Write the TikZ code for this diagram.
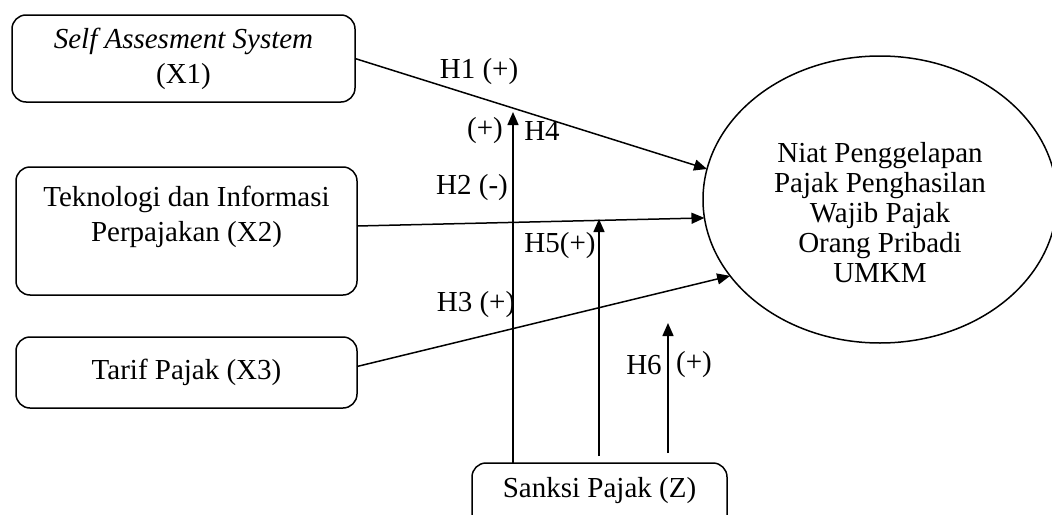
\documentclass[tikz,border=0pt]{standalone}
\usepackage{fontspec}
\setmainfont{Liberation Serif}
\usetikzlibrary{positioning,arrows.meta,shapes.geometric}

\begin{document}
\begin{tikzpicture}[
  x=1pt,y=-1pt,
  font=\fontsize{29}{35}\selectfont,
  box/.style={draw,line width=1.5pt,rounded corners=14pt,align=center,inner sep=0pt,outer sep=0pt},
  oval/.style={draw,ellipse,line width=1.5pt,inner sep=0pt,outer sep=0pt,minimum width=354pt,minimum height=287pt},
  arrow/.style={-{Triangle[length=13pt,width=11pt]},line width=1.5pt},
  hlabel/.style={inner sep=0pt}
]
\useasboundingbox (0,0) rectangle (1052,514);
\clip (0,0) rectangle (1052,514);
% variabel
\node[box,minimum width=343pt,minimum height=87pt] (x1) at (183.5,58.5) {\textit{Self Assesment System}\\(X1)};
\node[box,minimum width=341pt,minimum height=128pt,below=65pt of x1,xshift=3pt] (x2) {Teknologi dan Informasi\\Perpajakan (X2)\\\mbox{}};
\node[box,minimum width=341pt,minimum height=71pt,below=42pt of x2] (x3) {Tarif Pajak (X3)};
\node[box,minimum width=255pt,minimum height=80pt,text height=21pt,text depth=33pt,anchor=north] (z) at (599.5,463) {Sanksi Pajak (Z)};
\node[oval,label={[align=center,font=\fontsize{29}{30}\selectfont,yshift=-13.5pt]center:{Niat Penggelapan\\Pajak Penghasilan\\Wajib Pajak\\Orang Pribadi\\UMKM}}] (niat) at (880,199.5) {};
% ujung panah moderasi
\coordinate (h4tip) at (513,112);
\coordinate (h5tip) at (599,219);
\coordinate (h6tip) at (668,323);
\coordinate (h5foot) at (599,456);
\coordinate (h6foot) at (668,453);
\draw[arrow] (x1.east) -- (niat.170);
\draw[arrow] ([yshift=5pt]x2.east) -- (niat.186);
\draw[arrow] ([yshift=6pt]x3.east) -- (niat.207);
\draw[arrow] (z.north -| h4tip) -- (h4tip);
\draw[arrow] (h5foot) -- (h5tip);
\draw[arrow] (h6foot) -- (h6tip);
% hipotesis
\node[hlabel] (h1) at (479,72) {H1 (+)};
\node[hlabel] (h4sign) at (485,131) {(+)};
\node[hlabel] (h4) at (542,131) {H4};
\node[hlabel] (h2) at (472,188) {H2 (-)};
\node[hlabel] (h5) at (560,246) {H5(+)};
\node[hlabel] (h3) at (476,305) {H3 (+)};
\node[hlabel] (h6) at (644,365) {H6};
\node[hlabel] (h6sign) at (694,365) {(+)};
\end{tikzpicture}
\end{document}
